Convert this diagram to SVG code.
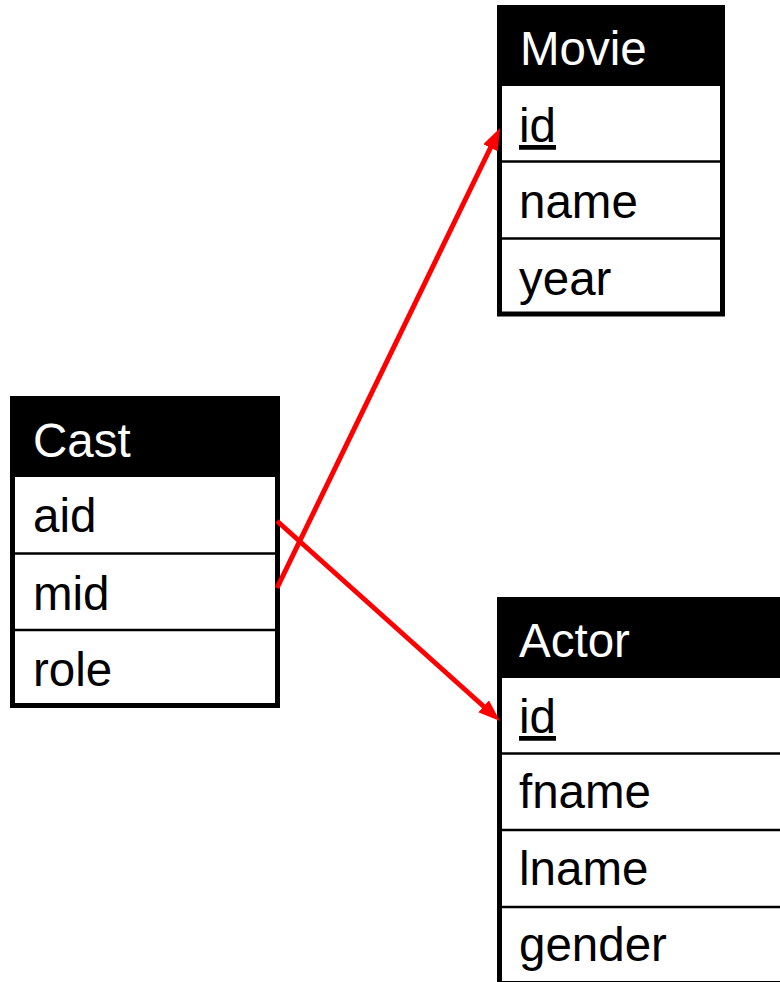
<svg xmlns="http://www.w3.org/2000/svg" width="780" height="982" viewBox="0 0 780 982">
  <style>
    .frame { fill: #ffffff; stroke: #000000; stroke-width: 5; }
    .head { fill: #000000; }
    .sep { stroke: #000000; stroke-width: 2.5; }
    .t { font-family: "Liberation Sans", Arial, sans-serif; font-size: 47.5px; fill: #000000; }
    .h { font-family: "Liberation Sans", Arial, sans-serif; font-size: 47.5px; fill: #ffffff; }
    .key { text-decoration: underline; }
    .fk { stroke: #ff0000; stroke-width: 5; fill: none; }
  </style>
  <defs>
    <marker id="arrow" markerUnits="userSpaceOnUse" markerWidth="22" markerHeight="16" refX="7" refY="8" orient="auto">
      <path d="M0,0 L22,8 L0,16 z" fill="#ff0000"/>
    </marker>
  </defs>
  <rect width="780" height="982" fill="#ffffff"/>

  <g id="movie">
    <rect class="frame" x="499.5" y="7.5" width="223" height="306.5"/>
    <rect class="head" x="497" y="5" width="228" height="81"/>
    <line class="sep" x1="499.5" y1="161.5" x2="722.5" y2="161.5"/>
    <line class="sep" x1="499.5" y1="238.5" x2="722.5" y2="238.5"/>
    <text class="h" x="520" y="65">Movie</text>
    <text class="t key" x="519" y="142">id</text>
    <text class="t" x="519" y="218">name</text>
    <text class="t" x="519" y="295">year</text>
  </g>

  <g id="cast">
    <rect class="frame" x="12.5" y="398.5" width="265" height="307"/>
    <rect class="head" x="10" y="396" width="270" height="81"/>
    <line class="sep" x1="12.5" y1="553.5" x2="277.5" y2="553.5"/>
    <line class="sep" x1="12.5" y1="630" x2="277.5" y2="630"/>
    <text class="h" x="33" y="457">Cast</text>
    <text class="t" x="33" y="532">aid</text>
    <text class="t" x="33" y="610">mid</text>
    <text class="t" x="33" y="686">role</text>
  </g>

  <g id="actor">
    <rect class="frame" x="499.5" y="599.5" width="300" height="384"/>
    <rect class="head" x="497" y="597" width="290" height="81"/>
    <line class="sep" x1="499.5" y1="753.5" x2="780" y2="753.5"/>
    <line class="sep" x1="499.5" y1="830" x2="780" y2="830"/>
    <line class="sep" x1="499.5" y1="907" x2="780" y2="907"/>
    <text class="h" x="519" y="657">Actor</text>
    <text class="t key" x="519" y="733">id</text>
    <text class="t" x="519" y="808">fname</text>
    <text class="t" x="519" y="885">lname</text>
    <text class="t" x="519" y="961">gender</text>
  </g>

  <g id="connectors">
    <line class="fk" x1="277" y1="588" x2="493.5" y2="141.5" marker-end="url(#arrow)"/>
    <line class="fk" x1="277" y1="521" x2="488.8" y2="711" marker-end="url(#arrow)"/>
  </g>
</svg>
